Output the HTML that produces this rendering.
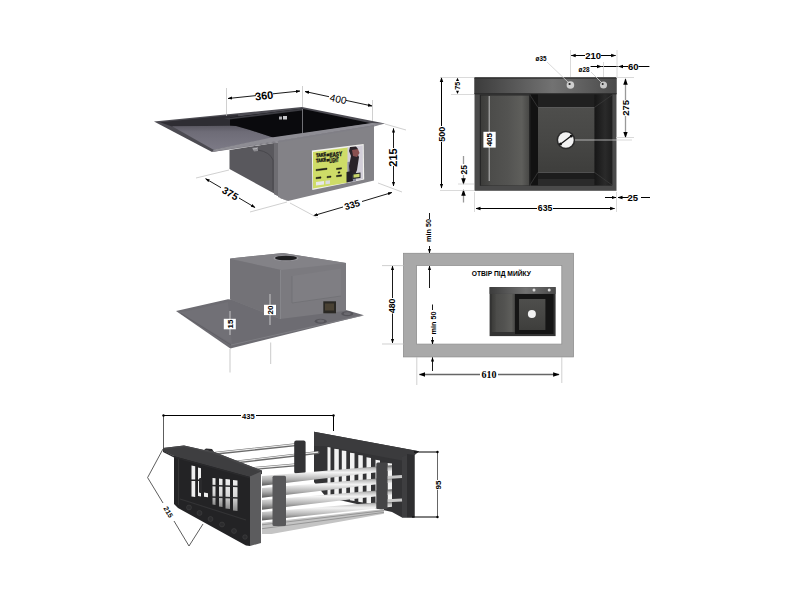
<!DOCTYPE html>
<html><head><meta charset="utf-8">
<style>
html,body{margin:0;padding:0;background:#fff;width:800px;height:600px;overflow:hidden}
svg{display:block}
text{font-family:"Liberation Sans",sans-serif}
</style></head><body>
<svg width="800" height="600" viewBox="0 0 800 600">
<defs>
<marker id="ar" viewBox="0 0 10 10" refX="9" refY="5" markerWidth="5" markerHeight="5" orient="auto-start-reverse"><path d="M0,1.5 L10,5 L0,8.5z" fill="#000"/></marker>
<linearGradient id="rimg" x1="0" x2="1" y1="0" y2="0">
<stop offset="0" stop-color="#3c3c3c"/><stop offset="0.55" stop-color="#727272"/><stop offset="1" stop-color="#4a4a4a"/></linearGradient>
<linearGradient id="bowlg" x1="0" x2="0" y1="0" y2="1">
<stop offset="0" stop-color="#4e4e4c"/><stop offset="0.5" stop-color="#474745"/><stop offset="1" stop-color="#3e3e3c"/></linearGradient>
<linearGradient id="dbg" x1="0" x2="1" y1="0" y2="0">
<stop offset="0" stop-color="#3c3c3a"/><stop offset="0.15" stop-color="#464644"/><stop offset="0.2" stop-color="#4c4c4a"/><stop offset="0.55" stop-color="#535351"/><stop offset="0.85" stop-color="#5e5e5b"/><stop offset="1" stop-color="#484846"/></linearGradient>
<linearGradient id="dsg" x1="0" x2="0" y1="0" y2="1">
<stop offset="0" stop-color="#5a5862"/><stop offset="0.25" stop-color="#6e6c77"/><stop offset="1" stop-color="#7c7a86"/></linearGradient>
<linearGradient id="rwg" x1="0" x2="1" y1="0" y2="0">
<stop offset="0" stop-color="#161616"/><stop offset="0.6" stop-color="#2a2a2a"/><stop offset="1" stop-color="#1e1e1e"/></linearGradient>
<linearGradient id="rodg" x1="0" x2="0" y1="0" y2="1">
<stop offset="0" stop-color="#555"/><stop offset="0.15" stop-color="#bdbdbd"/><stop offset="0.35" stop-color="#f4f4f4"/><stop offset="0.7" stop-color="#b0b0b0"/><stop offset="1" stop-color="#5a5a5a"/></linearGradient>
</defs>

<!-- ============ TOP LEFT SINK ============ -->
<g id="tl">
<!-- bowl left face -->
<polygon points="229.5,150 274,143 274,194 288,201 229.5,169" fill="#59585d"/>
<polygon points="274,143 280,142 280,198 288,201 274,194" fill="#6e6d72"/>
<path d="M258,150 Q270,152 273,160 L273,190" fill="none" stroke="#48474c" stroke-width="1"/>
<path d="M252,148 L258,147 L258,151 L254,151.5 Z" fill="#8c8b90"/>
<path d="M253,149 L257,148.5" stroke="#c0c0c4" stroke-width="0.8"/>
<!-- bowl front face -->
<polygon points="278,141 374,125 374,180.5 288,201 278,197" fill="#838287"/>
<!-- rim outline -->
<polygon points="154,121.5 302,107 385,123.5 212,152" fill="#4c4b52"/>
<!-- drainboard back recess -->
<polygon points="160,122.3 238,114.5 240,126 172,126.5" fill="#2e2d33"/>
<!-- drainboard surface -->
<polygon points="172,126.3 236,125.8 250,130 273.75,137.8 213.5,149.7" fill="url(#dsg)"/>
<!-- bowl opening -->
<polygon points="230,117.5 302,108.8 371,123.2 273.75,137.8 250,130 236,126 230,125.5" fill="#0a0a0d"/>
<polygon points="224,118.5 302,108.5 302,110.5 229,119.5" fill="#3c3c42"/>
<line x1="302.5" y1="109" x2="302.5" y2="134" stroke="#8a8a90" stroke-width="0.8"/>
<rect x="279" y="116.5" width="3" height="3" fill="#b0b0b4"/><rect x="283" y="116" width="4" height="3.5" fill="#c8c8cc"/>
<!-- front rim band -->
<polygon points="212,152 385,123.5 372,123 271.5,137.5 214,149.5" fill="#8e8d94"/>
<polygon points="212,152 385,123.5 374,126.5 278,142.5" fill="#807f86"/>
<!-- label -->
<polygon points="311.9,150.5 363.7,144.1 364.2,179.4 312.3,190" fill="#f2f2ee"/>
<polygon points="313,152 348,147.6 348,182.6 313,188.6" fill="#cedc68"/>
<polygon points="347.5,147.4 362.8,145.3 363,179 347.5,182.4" fill="#d2ced8"/>
<polygon points="347.5,162 356,161 356,181 347.5,182.4" fill="#8a8a9c"/>
<polygon points="350,147 356,146.5 358,149 357,153 359,157 357,170 355,175 350,176 349,166 351,156 349,151" fill="#2a2228"/>
<polygon points="352,150 358,149 359.5,153 357,157 353,156" fill="#8a5050"/>
<polygon points="346.5,172 352,171 353,181 346.5,182.5" fill="#222026"/>
<polygon points="352.5,173.5 360.5,172.5 360.5,178 352.5,179" fill="#25272a"/>
<polygon points="353.5,174.5 359.5,173.8 359.5,177 353.5,177.8" fill="#c8d46a"/>
<g transform="matrix(1,-0.126,0,1,0,0)" fill="#1e1e18" stroke="#1e1e18" stroke-width="0.45" font-weight="bold">
<text x="316" y="197.1" font-size="5" textLength="10" lengthAdjust="spacingAndGlyphs">TAKE</text>
<text x="326.5" y="197.9" font-size="5">≡</text>
<text x="329.5" y="199.0" font-size="6.5" textLength="12.5" lengthAdjust="spacingAndGlyphs">EASY</text>
<text x="316" y="202.3" font-size="5" textLength="10" lengthAdjust="spacingAndGlyphs">TAKE</text>
<text x="326.5" y="203.1" font-size="5">≡</text>
<text x="329.5" y="204.5" font-size="6.5" textLength="9" lengthAdjust="spacingAndGlyphs">LIGHT</text>
<rect x="316.0" y="209.3" width="11.0" height="1.3"/>
<rect x="336.5" y="210.7" width="5.0" height="1.3"/>
<rect x="316.0" y="217.3" width="5.0" height="1.3"/>
<rect x="327.0" y="217.7" width="4.0" height="1.3"/>
<rect x="336.5" y="217.9" width="5.0" height="1.3"/>
<rect x="338.0" y="214.6" width="2.0" height="1.2"/>
</g>
<polygon points="316,182 324,181 324,184.5 316,185.5" fill="#e8e8ea"/><polygon points="325.5,180.8 330,180.3 330,183.8 325.5,184.3" fill="#dcdce0"/>
</g>
<!-- dims top-left -->
<g stroke="#000" stroke-width="0.9" fill="none">
<line x1="228" y1="98.5" x2="256" y2="95.6" marker-start="url(#ar)"/>
<line x1="273" y1="93.8" x2="300" y2="91" marker-end="url(#ar)"/>
<line x1="305" y1="91.5" x2="329" y2="96.7" marker-start="url(#ar)"/>
<line x1="346" y1="100.4" x2="372" y2="106" marker-end="url(#ar)"/>
<line x1="393.5" y1="128.5" x2="393.5" y2="148" marker-start="url(#ar)"/>
<line x1="393.5" y1="166" x2="393.5" y2="186" marker-end="url(#ar)"/>
<line x1="205.6" y1="178.7" x2="221" y2="187.7" marker-start="url(#ar)"/>
<line x1="239" y1="198" x2="255" y2="207.5" marker-end="url(#ar)"/>
<line x1="313.7" y1="215.6" x2="343" y2="207" marker-start="url(#ar)"/>
<line x1="362" y1="201.5" x2="391.9" y2="192.5" marker-end="url(#ar)"/>
</g>
<g stroke="#bbb" stroke-width="0.7" fill="none">
<line x1="226.5" y1="88" x2="226.5" y2="116"/>
<line x1="302.5" y1="86" x2="302.5" y2="107"/>
<line x1="372.5" y1="100" x2="372.5" y2="121"/>
<line x1="385" y1="124" x2="406" y2="130"/>
<line x1="378" y1="183" x2="402" y2="192"/>
<line x1="196" y1="178" x2="229" y2="170"/>
<line x1="250" y1="212" x2="287" y2="202"/>
<line x1="290" y1="203" x2="318" y2="218"/>
</g>
<g font-weight="bold" font-size="11" fill="#000" text-anchor="middle">
<text transform="translate(264.5,99.5) rotate(-6)">360</text>
<text transform="translate(337.5,102.5) rotate(12)" font-weight="normal" font-size="10">400</text>
<text transform="translate(397,157.5) rotate(-90)">215</text>
<text transform="translate(228.5,196.5) rotate(30)" font-size="10">375</text>
<text transform="translate(353,208) rotate(-16.5)" font-size="9.5">335</text>
</g>

<!-- ============ TOP RIGHT DRAWING ============ -->
<g id="tr">
<rect x="474.5" y="77.5" width="142" height="113.3" fill="#4a4a4a"/>
<rect x="474.5" y="77.5" width="142" height="16.5" fill="url(#rimg)"/>
<rect x="474.5" y="77.5" width="142" height="1.2" fill="#2e2e2e"/>
<rect x="474.5" y="93.2" width="142" height="1.2" fill="#2a2a2a"/>
<!-- drainboard -->
<rect x="479.8" y="94.5" width="50" height="91.3" fill="#262626"/>
<rect x="481" y="95.5" width="48" height="90" fill="url(#dbg)"/>
<!-- bowl -->
<rect x="529.6" y="94.4" width="82.6" height="91" fill="#1a1a1a"/>
<rect x="531" y="94.4" width="7" height="91" fill="#121212"/>
<rect x="594.4" y="94.4" width="17.8" height="91" fill="url(#rwg)"/>
<rect x="538" y="94.4" width="56.4" height="13" fill="#202020"/>
<rect x="538" y="172.3" width="56.4" height="13" fill="#1c1c1c"/>
<rect x="538" y="179" width="56.4" height="6.4" fill="#2a2a2a"/>
<rect x="538" y="107.5" width="56.4" height="64.8" fill="url(#bowlg)"/>
<rect x="538" y="107" width="56.4" height="1" fill="#5a5a5a"/>
<rect x="538" y="172" width="56.4" height="1" fill="#505050"/>
<g stroke="#3a3a3a" stroke-width="0.8">
<line x1="530" y1="95" x2="538" y2="107.5"/>
<line x1="612" y1="95" x2="594.4" y2="107.5"/>
<line x1="530" y1="185" x2="538" y2="172.3"/>
<line x1="612" y1="185" x2="594.4" y2="172.3"/>
</g>
<circle cx="565.9" cy="140" r="9.3" fill="#2a2a2a"/>
<circle cx="565.9" cy="140" r="7.8" fill="#f2f2f2"/>
<line x1="560" y1="144.5" x2="571.8" y2="135.5" stroke="#111" stroke-width="1.3"/>
<circle cx="560.5" cy="144" r="1.5" fill="#111"/>
<circle cx="571.3" cy="136" r="1.5" fill="#111"/>
<circle cx="570.4" cy="85" r="3.8" fill="#cfcfcf"/>
<circle cx="569.6" cy="84" r="1.1" fill="#222"/>
<circle cx="603.5" cy="85" r="3.5" fill="#c8c8c8"/>
<circle cx="602.7" cy="84" r="1" fill="#222"/>
<!-- 405 -->
<line x1="489.2" y1="96" x2="489.2" y2="181" stroke="#ddd" stroke-width="0.8"/>
<rect x="483.4" y="131.8" width="12.3" height="15.8" fill="#fff"/>
<text transform="translate(492,139.7) rotate(-90)" font-size="8" font-weight="bold" text-anchor="middle">405</text>
</g>
<!-- dims top-right -->
<g stroke="#000" stroke-width="1" fill="none">
<line x1="441.5" y1="77.5" x2="441.5" y2="126" marker-start="url(#ar)"/>
<line x1="441.5" y1="142" x2="441.5" y2="188" marker-end="url(#ar)"/>
<line x1="476" y1="208.5" x2="537" y2="208.5" marker-start="url(#ar)"/>
<line x1="553" y1="208.5" x2="614.6" y2="208.5" marker-end="url(#ar)"/>
<line x1="571.2" y1="55.5" x2="585" y2="55.5" marker-start="url(#ar)"/>
<line x1="601" y1="55.5" x2="615.6" y2="55.5" marker-end="url(#ar)"/>
<line x1="590.6" y1="66.5" x2="601.5" y2="66.5" marker-end="url(#ar)"/>
<line x1="601.5" y1="66.5" x2="618" y2="66.5"/>
<line x1="628" y1="66.5" x2="618.7" y2="66.5" marker-end="url(#ar)"/>
<line x1="638.5" y1="66.5" x2="649.4" y2="66.5"/>
<line x1="605" y1="197.5" x2="616" y2="197.5" marker-end="url(#ar)"/>
<line x1="628.5" y1="197.5" x2="618" y2="197.5" marker-end="url(#ar)"/>
<line x1="641" y1="197.5" x2="650" y2="197.5"/>
</g>
<g stroke="#999" stroke-width="1.3" fill="none">
<line x1="625.5" y1="79" x2="625.5" y2="100" marker-start="url(#ar)"/>
<line x1="625.5" y1="116" x2="625.5" y2="137.5" marker-end="url(#ar)"/>
<line x1="463.5" y1="156" x2="463.5" y2="164"/>
<line x1="463.5" y1="175" x2="463.5" y2="184" marker-end="url(#ar)"/>
<line x1="463.5" y1="202.5" x2="463.5" y2="190" marker-end="url(#ar)"/>
</g>
<g fill="#000">
<polygon points="457.5,77.8 456,81 459,81"/>
<polygon points="457.5,94 456,90.8 459,90.8"/>
</g>
<g stroke="#d0d0d0" stroke-width="0.8" fill="none">
<line x1="440" y1="77.5" x2="474" y2="77.5"/>
<line x1="451" y1="94.5" x2="474" y2="94.5"/>
<line x1="440" y1="190.5" x2="474" y2="190.5"/>
<line x1="458" y1="184" x2="474" y2="184"/>
<line x1="474.5" y1="192" x2="474.5" y2="212"/>
<line x1="616.5" y1="192" x2="616.5" y2="212"/>
<line x1="570.5" y1="50" x2="570.5" y2="77"/>
<line x1="603.5" y1="62" x2="603.5" y2="77"/>
<line x1="617" y1="50" x2="617" y2="77"/>
<line x1="616" y1="77.5" x2="634" y2="77.5"/>
<line x1="616" y1="137.5" x2="634" y2="137.5"/>
<line x1="575" y1="140" x2="632" y2="140"/>
<line x1="547" y1="62" x2="569" y2="83"/>
<line x1="591" y1="72" x2="602" y2="83"/>
</g>
<g font-weight="bold" font-size="9" fill="#000" text-anchor="middle">
<text transform="translate(444.6,134.2) rotate(-90)">500</text>
<text x="545.1" y="211.4" font-size="8.7">635</text>
<text x="593.1" y="59.3" font-size="9.5">210</text>
<text x="633.3" y="70" font-size="9.5">60</text>
<text transform="translate(628.5,107.8) rotate(-90)" font-size="9.5">275</text>
<text x="632.8" y="201" font-size="9.5">25</text>
<text transform="translate(466.6,169.8) rotate(-90)" font-size="8.5">25</text>
<text transform="translate(460.3,85.8) rotate(-90)" font-size="7.2">75</text>
<text x="541" y="61.2" font-size="6.3">ø35</text>
<text x="584" y="72.2" font-size="6.3">ø28</text>
</g>

<!-- ============ MIDDLE LEFT (bottom view) ============ -->
<g id="ml">
<polygon points="176,311 228,299.3 346,310 364,315.3 230.3,348.5" fill="#6d6c72"/>
<polygon points="180,312.5 228,302 232,344" fill="#717076"/>
<line x1="181" y1="313.5" x2="231" y2="345" stroke="#5e5d63" stroke-width="0.8"/>
<line x1="231" y1="345" x2="362" y2="315.5" stroke="#828187" stroke-width="0.8"/>
<polygon points="230,258.6 283,253 346,263 346,310.7 280,319 230,299.3" fill="#7b7a7f"/>
<polygon points="230,258.6 283,253 346,263 281,270" fill="#838287"/>
<polygon points="230,259 281,270 281,319 230,299.3" fill="#737277"/>
<line x1="280.5" y1="270" x2="280.5" y2="319" stroke="#8c8b90" stroke-width="0.8"/>
<polygon points="292,276 341,268.5 341,296 292,303" fill="#7f7e83"/>
<line x1="292" y1="303" x2="341" y2="296" stroke="#6f6e73" stroke-width="0.7"/>
<line x1="292" y1="276" x2="292" y2="303" stroke="#6f6e73" stroke-width="0.7"/>
<ellipse cx="286" cy="258.2" rx="12.5" ry="3" fill="#9a999e"/>
<ellipse cx="286" cy="258" rx="11" ry="2.3" fill="#1e1e20"/>
<rect x="323.3" y="301.3" width="12.7" height="12" fill="#2a2824"/>
<rect x="325" y="303.5" width="9" height="7" fill="#4a4234"/>
<ellipse cx="320.7" cy="321.3" rx="6" ry="2.5" fill="#55545a"/>
<ellipse cx="320.7" cy="321" rx="3.5" ry="1.5" fill="#6a696f"/>
<ellipse cx="347.3" cy="313.7" rx="6" ry="2.5" fill="#55545a"/>
<ellipse cx="347.3" cy="313.4" rx="3.5" ry="1.5" fill="#6a696f"/>
<line x1="230" y1="311" x2="230" y2="335" stroke="#ddd" stroke-width="0.8"/>
<line x1="270" y1="294" x2="270" y2="325" stroke="#ddd" stroke-width="0.8"/>
<line x1="230" y1="349" x2="230" y2="372.5" stroke="#bbb" stroke-width="0.8"/>
<line x1="270.7" y1="342.5" x2="270.7" y2="364" stroke="#bbb" stroke-width="0.8"/>
<rect x="223.8" y="318.8" width="12" height="10.5" fill="#fff"/>
<rect x="264" y="304.8" width="12" height="10.3" fill="#fff"/>
<g font-weight="bold" font-size="8" text-anchor="middle">
<text transform="translate(232.8,324) rotate(-90)">15</text>
<text transform="translate(273,310) rotate(-90)">20</text>
</g>
</g>

<!-- ============ MIDDLE RIGHT (cutout) ============ -->
<g id="mr">
<rect x="403.5" y="253.3" width="170" height="103.6" fill="#a9a9a9" stroke="#8e8e8e" stroke-width="0.8"/>
<rect x="416.6" y="265.4" width="145.2" height="78.7" fill="#fff" stroke="#909090" stroke-width="0.8"/>
<text x="471.7" y="276" font-size="7.6" font-weight="bold" textLength="59.3" lengthAdjust="spacingAndGlyphs">ОТВІР ПІД МИЙКУ</text>
<rect x="489.6" y="287.1" width="66" height="49" fill="#333"/>
<rect x="489.6" y="287.1" width="66" height="6.8" fill="url(#rimg)"/>
<rect x="491.8" y="294" width="23" height="38" fill="url(#dbg)"/>
<rect x="515" y="294" width="38.5" height="40" fill="#151515"/>
<rect x="519" y="299" width="26.4" height="31" fill="url(#bowlg)"/>
<circle cx="531.9" cy="314.1" r="4" fill="#f2f2f2"/>
<circle cx="534" cy="290" r="1.5" fill="#ddd"/>
<circle cx="549.2" cy="290" r="1.5" fill="#ddd"/>
</g>
<g stroke="#000" stroke-width="0.9" fill="none">
<line x1="429.5" y1="213" x2="429.5" y2="219"/>
<line x1="429.5" y1="246" x2="429.5" y2="253" marker-end="url(#ar)"/>
<line x1="429.5" y1="288" x2="429.5" y2="266" marker-end="url(#ar)"/>
<line x1="392.5" y1="298" x2="392.5" y2="266" marker-end="url(#ar)"/>
<line x1="392.5" y1="313.5" x2="392.5" y2="343" marker-end="url(#ar)"/>
<line x1="432.5" y1="304.5" x2="432.5" y2="310"/>
<line x1="432.5" y1="337" x2="432.5" y2="344" marker-end="url(#ar)"/>
<line x1="432.5" y1="371" x2="432.5" y2="357.5" marker-end="url(#ar)"/>
<line x1="480" y1="374.5" x2="419.4" y2="374.5" marker-end="url(#ar)" stroke="#666" stroke-width="1.3"/>
<line x1="498" y1="374.5" x2="559" y2="374.5" marker-end="url(#ar)" stroke="#666" stroke-width="1.3"/>
</g>
<g stroke="#bbb" stroke-width="0.7" fill="none">
<line x1="382" y1="265.6" x2="404" y2="265.6"/>
<line x1="382" y1="344" x2="404" y2="344"/>
<line x1="416.8" y1="357" x2="416.8" y2="385"/>
<line x1="561.8" y1="357" x2="561.8" y2="383"/>
</g>
<g font-size="9" fill="#000" text-anchor="middle">
<text transform="translate(431.4,230.5) rotate(-90)" font-weight="bold" font-size="7.2">min 50</text>
<text transform="translate(435.6,323) rotate(-90)" font-weight="bold" font-size="7.2">min 50</text>
<text transform="translate(395,305.9) rotate(-90)" font-weight="bold" font-size="8.6">480</text>
<text x="489.1" y="377.8" font-weight="bold" font-size="10" style="font-family:'Liberation Serif',serif">610</text>
</g>

<!-- ============ BASKET ============ -->
<g id="bk">
<!-- back end piece -->
<polygon points="314,431.7 419,451.2 414.5,455 414.5,517.5 402,517.5 392,512 326,497 314,482" fill="#333335"/>
<polygon points="314,431.7 419,451.2 414.5,455 402,460.5 326,446.3 314,446" fill="#3b3b3d"/>
<polygon points="402,457 407,455 407,517.5 402,517.5" fill="#3e3e40"/>
<polygon points="407,454 414.5,455 414.5,517.5 407,517.5" fill="#2e2e30"/>
<g fill="#f2f2f2">
<polygon points="327.5,447.0 330.5,447.6 330.5,496.6 327.5,496.1"/>
<polygon points="334.3,448.7 338.8,449.3 338.8,498.2 334.3,497.4"/>
<polygon points="341.8,450.5 346.3,451.1 346.3,499.6 341.8,498.7"/>
<polygon points="350.0,452.7 354.5,453.3 354.5,501.1 350.0,500.3"/>
<polygon points="358.3,455.0 362.8,455.6 362.8,502.6 358.3,501.8"/>
<polygon points="366.5,457.3 371.0,457.9 371.0,504.1 366.5,503.3"/>
<polygon points="375.5,459.8 380.0,460.4 380.0,505.8 375.5,505.0"/>
<polygon points="387.5,463 392,463.5 392,505 387.5,505"/>
</g>
<!-- back rods -->
<g stroke="#6a6a6a" stroke-width="3" stroke-linecap="round">
<line x1="213.8" y1="453.4" x2="300" y2="444.3"/>
<line x1="232.5" y1="462.4" x2="318" y2="452.5"/>
<line x1="248.7" y1="468.9" x2="300" y2="464.5"/>
</g>
<g stroke="#ececec" stroke-width="1.2">
<line x1="213.8" y1="453" x2="300" y2="443.9"/>
<line x1="232.5" y1="462" x2="318" y2="452.1"/>
<line x1="248.7" y1="468.5" x2="300" y2="464.1"/>
</g>
<!-- back clamp -->
<rect x="294.2" y="440.4" width="11.4" height="33.4" rx="2" fill="#333335"/>
<!-- front rods -->
<polygon points="262.0,476.0 392.0,465.2 392.0,470.6 262.0,485.8" fill="url(#rodg)"/>
<polygon points="262.0,488.0 392.0,477.2 392.0,482.6 262.0,497.8" fill="url(#rodg)"/>
<polygon points="262.0,500.0 392.0,489.2 392.0,494.6 262.0,509.8" fill="url(#rodg)"/>
<polygon points="262.0,512.0 392.0,501.2 392.0,506.8 262.0,520.5" fill="url(#rodg)"/>
<polygon points="262.0,522.7 384.0,509.1 384.0,513.8 271.5,534.0 262.0,534.0" fill="#c4c4c4"/>
<line x1="262" y1="524.8" x2="384" y2="510.6" stroke="#8a8a8a" stroke-width="0.8"/>
<line x1="262" y1="528.7" x2="384" y2="512.4" stroke="#8a8a8a" stroke-width="0.8"/>
<!-- short rod stubs right -->
<g stroke="#c8c8c8" stroke-width="3">
<line x1="387" y1="477.5" x2="402" y2="476.5"/>
<line x1="387" y1="500.8" x2="402" y2="500"/>
</g>
<!-- front clamps -->
<rect x="272.5" y="475.7" width="13.5" height="50.3" rx="1.5" fill="#58585a"/>
<rect x="376.3" y="462.5" width="11.2" height="46.5" rx="1.5" fill="#444446"/>
<!-- left end piece -->
<polygon points="174,455 250,476 250,546 246,545.5 178,508 174,504" fill="#232325"/>
<line x1="178.5" y1="458" x2="178.5" y2="505" stroke="#333" stroke-width="1"/>
<g fill="#efefef">
<polygon points="191.5,465.5 195.2,466.3 195.2,497 191.5,496.5"/>
<polygon points="198,467.5 201,468.2 201,496.5 198,496"/>
<polygon points="204,492.5 208,493.3 208,497.3 204,496.7"/>
</g>
<rect x="191" y="479.5" width="11" height="1.5" fill="#232325"/>
<rect x="199" y="478" width="3" height="15" rx="1.2" fill="#2a2a2c"/>
<defs><linearGradient id="gapg" x1="0" x2="0" y1="0" y2="1"><stop offset="0" stop-color="#f0f0f0"/><stop offset="0.55" stop-color="#d8d8d8"/><stop offset="1" stop-color="#8a8a8a"/></linearGradient></defs>
<g fill="url(#gapg)">
<polygon points="212.5,478 215.5,478.3 215.5,505 212.5,504.5"/>
<polygon points="219,478.5 222.5,479 222.5,507 219,506.5"/>
<polygon points="225.5,479 230,479.6 230,509 225.5,508.5"/>
<polygon points="233,480 237.5,480.6 237.5,511 233,510.5"/>
</g>
<g stroke="#29292b" stroke-width="1.3">
<line x1="211" y1="485.5" x2="239" y2="486.5"/>
<line x1="211" y1="497" x2="239" y2="498"/>
</g>
<line x1="180" y1="499" x2="246" y2="520" stroke="#333335" stroke-width="1.2"/>
<g fill="#2c2c2e" stroke="#3c3c3e" stroke-width="0.8">
<circle cx="189" cy="507.5" r="2.4"/><circle cx="199.5" cy="513" r="2.4"/><circle cx="210.5" cy="519" r="2.4"/>
<circle cx="222" cy="524.5" r="2.4"/><circle cx="234" cy="531" r="2.4"/><circle cx="245" cy="537" r="2.2"/>
</g>
<polygon points="163,448 184,445.5 204,450 213,451.5 262,470.5 262,474 250,477 175,456.5 163,451" fill="#3e3e40"/>
<polygon points="204,450 206,448.5 212,449 214,452" fill="#2e2e30"/>
<polygon points="163,448 184,445.5 204,450 213,451.5 262,470.5 259,471.2 212,453 184,447 165,449.3" fill="#474749"/>
<polygon points="163,450.5 175,456.5 250,477 250,478.5 175,458 163,452" fill="#2a2a2c"/>
<polygon points="250,476.5 261,471.5 261,543 250,546" fill="#5c5c5e"/>
</g>
<g stroke="#000" stroke-width="1" fill="none">
<line x1="163.5" y1="415.5" x2="241" y2="415.5"/>
<line x1="256" y1="415.5" x2="333.5" y2="415.5"/>
<line x1="333.5" y1="415.5" x2="333.5" y2="431"/>
<line x1="437.5" y1="452" x2="437.5" y2="480" stroke="#666"/>
<line x1="437.5" y1="490" x2="437.5" y2="517" stroke="#666"/>
<line x1="414" y1="452" x2="437.5" y2="452"/>
<line x1="412" y1="517" x2="437.5" y2="517"/>
</g>
<g stroke="#333" stroke-width="0.8" fill="none">
<line x1="163.5" y1="415.5" x2="163.5" y2="448"/>
<line x1="163" y1="449" x2="147.6" y2="477.6"/>
<line x1="147.6" y1="477.6" x2="163" y2="503"/>
<line x1="174" y1="521" x2="189" y2="546"/>
<line x1="189" y1="546" x2="203" y2="524"/>
</g>
<g fill="#000"><circle cx="163.5" cy="415.5" r="1.2"/><circle cx="333.5" cy="415.5" r="1.2"/><circle cx="437.5" cy="452" r="1.2"/><circle cx="437.5" cy="517" r="1.2"/></g>
<g font-size="7.6" font-weight="bold" fill="#000" text-anchor="middle">
<text x="248.4" y="418.8">435</text>
<text transform="translate(166.3,513.3) rotate(58.8)" font-size="7">215</text>
<text transform="translate(440.9,485) rotate(-90)" font-size="8">95</text>
</g>
</svg>
</body></html>
